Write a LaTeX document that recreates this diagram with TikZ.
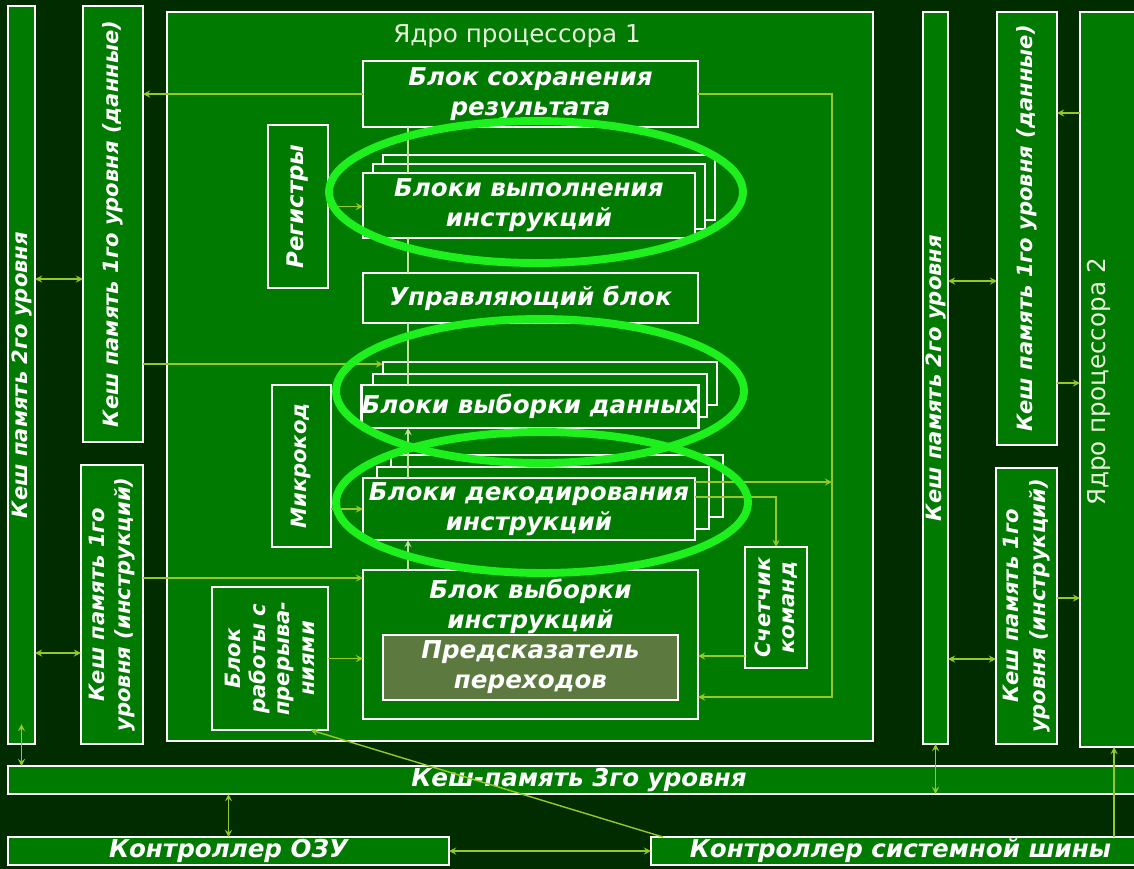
\documentclass[tikz,border=0pt]{standalone}
\usepackage{fontspec}
\setmainfont{DejaVu Sans}
\usetikzlibrary{calc}

\definecolor{bgdark}{RGB}{0,44,0}
\definecolor{boxgreen}{RGB}{0,122,0}
\definecolor{wirec}{RGB}{150,200,40}
\definecolor{spinec}{RGB}{190,225,160}
\definecolor{ringc}{RGB}{30,240,30}
\definecolor{predc}{RGB}{92,122,64}
\definecolor{titlec}{RGB}{232,244,220}

\begin{document}
\begin{tikzpicture}[x=0.02cm, y=-0.02cm, >=stealth,
  every node/.style={font=\bfseries\itshape\fontsize{14}{17}\selectfont, text=white, inner sep=0pt, outer sep=0pt},
  sz/.style 2 args={minimum width=#1*0.02cm, minimum height=#2*0.02cm},
  blk/.style={draw=white, line width=1.6pt, fill=boxgreen, align=center},
  vtxt/.style={rotate=90, align=center, font=\bfseries\itshape\fontsize{12}{14}\selectfont},
  title/.style={font=\fontsize{14}{17}\selectfont, text=titlec},
  wire/.style={draw=wirec, line width=0.8pt},
  spine/.style={draw=spinec, line width=0.8pt},
  ring/.style={draw=ringc, line width=4.5pt}]
\useasboundingbox (0,0) rectangle (1134,869);
\clip (0,0) rectangle (1134,869);
\fill[bgdark] (0,0) rectangle (1134,869);

\node[blk, sz={27}{738}] (L2L) at (21.5,375) {};
\node[vtxt] at (L2L) {Кеш память 2го уровня};
\node[blk, sz={60}{436}] (L1DL) at (113,224) {};
\node[vtxt] at (L1DL) {Кеш память 1го уровня (данные)};
\node[blk, sz={62}{279}] (L1IL) at (112,604.5) {};
\node[vtxt, font=\bfseries\itshape\fontsize{12}{15}\selectfont] at (L1IL) {Кеш память 1го\\уровня (инструкций)};

\node[blk, sz={706}{729}] (core1) at (520,376.5) {};
\node[title] (core1T) at (517,36) {Ядро процессора 1};

\node[blk, sz={25}{732}] (L2R) at (935.5,378) {};
\node[vtxt] at (L2R) {Кеш память 2го уровня};
\node[blk, sz={60}{433}] (L1DR) at (1027,228.5) {};
\node[vtxt] at (L1DR) {Кеш память 1го уровня (данные)};
\node[blk, sz={61}{276}] (L1IR) at (1026.5,606) {};
\node[vtxt, font=\bfseries\itshape\fontsize{12}{15}\selectfont] at (L1IR) {Кеш память 1го\\уровня (инструкций)};
\node[blk, sz={70}{735}] (core2) at (1115,379.5) {};
\node[title, rotate=90] (core2T) at (1099,382) {Ядро процессора 2};

\node[blk, sz={1142}{28}] (L3) at (579,780) {Кеш-память 3го уровня};
\node[blk, sz={441}{28}] (ram) at (228.5,851) {Контроллер ОЗУ};
\node[blk, sz={499}{28}] (bus) at (900.5,851) {Контроллер системной шины};

\node[blk, sz={335}{66}] (save) at (530.5,94) {Блок сохранения\\результата};
\node[blk, sz={332}{65}] (execB) at (549,187.5) {};
\node[blk, sz={332}{65}] (execM) at (539,196.5) {};
\node[blk, sz={332}{65}] (exec) at (529,205.5) {Блоки выполнения\\инструкций};
\node[blk, sz={335}{50}] (ctrl) at (530.5,298) {Управляющий блок};
\node[blk, sz={334}{43}] (datB) at (550,383.5) {};
\node[blk, sz={334}{43}] (datM) at (540,395.5) {};
\node[blk, sz={334}{43}] (dat) at (530,406.5) {Блоки выборки данных};
\node[blk, sz={332}{62}] (decB) at (557,486) {};
\node[blk, sz={332}{62}] (decM) at (543,498) {};
\node[blk, sz={332}{62}] (dec) at (529,509) {Блоки декодирования\\инструкций};
\node[blk, sz={335}{149}] (fetch) at (530.5,644.5) {};
\node[align=center] (fetchT) at (530.5,606) {Блок выборки\\инструкций};
\node[blk, fill=predc, sz={295}{65}] (pred) at (530.5,667.5) {Предсказатель\\переходов};

\node[blk, sz={60}{163}] (reg) at (298,206.5) {};
\node[vtxt, font=\bfseries\itshape\fontsize{13}{15}\selectfont] at (reg) {Регистры};
\node[blk, sz={59}{162}] (micro) at (301.5,466) {};
\node[vtxt] at (micro) {Микрокод};
\node[blk, sz={116}{143}] (intr) at (270,658.5) {};
\node[vtxt] at (intr) {Блок\\работы с\\прерыва-\\ниями};
\node[blk, sz={62}{121}] (pc) at (776,607.5) {};
\node[vtxt] at (pc) {Счетчик\\команд};

\coordinate (xRet) at (832,0);
\coordinate (xS) at (408,0);
\coordinate (xH) at (1114,0);
\coordinate (yRet) at (0,697);
\coordinate (yDec1) at (0,482);
\coordinate (yDec2) at (0,497);
\coordinate (yPc) at (0,656);
\coordinate (yDat) at (0,364);
\coordinate (yIi) at (0,578);
\coordinate (yA) at (0,279);
\coordinate (yB) at (0,653);
\coordinate (yC) at (0,281);
\coordinate (yD) at (0,659);
\coordinate (yE) at (0,113);
\coordinate (yF) at (0,383);
\coordinate (yG) at (0,598);

\draw[spine] (save.south -| xS) -- (exec.north -| xS);
\draw[spine] (exec.south -| xS) -- (ctrl.north -| xS);
\draw[spine] (ctrl.south -| xS) -- (dat.north -| xS);
\draw[spine,->] (dec.north -| xS) -- (dat.south -| xS);
\draw[spine,->] (fetch.north -| xS) -- (dec.south -| xS);

\draw[wire,->] (save.west) -- (save.west -| L1DL.east);
\draw[wire,->] (save.east) -- (save.east -| xRet) -- (xRet |- yRet) -- (fetch.east |- yRet);
\draw[wire,->] (dec.east |- yDec1) -- (xRet |- yDec1);
\draw[wire,->] (dec.east |- yDec2) -| (pc.north);
\draw[wire,->] (pc.west |- yPc) -- (fetch.east |- yPc);
\draw[wire,->] (reg.east) -- (reg.east -| exec.west);
\draw[wire,->] (micro.east |- dec.west) -- (dec.west);
\draw[wire,->] (intr.east) -- (intr.east -| fetch.west);
\draw[wire,->] (L1DL.east |- yDat) -- (datB.west |- yDat);
\draw[wire,->] (L1IL.east |- yIi) -- (fetch.west |- yIi);
\draw[wire,<->] (L2L.east |- yA) -- (L1DL.west |- yA);
\draw[wire,<->] (L2L.east |- yB) -- (L1IL.west |- yB);
\draw[wire,<->] ([yshift=0.4cm]L2L.south) -- (L3.north -| L2L.south);
\draw[wire,<->] (L3.south -| ram.north) -- (ram.north);
\draw[wire,<->] (ram.east) -- (bus.west);
\draw[wire,->] ([xshift=0.24cm]bus.north west) -- ($(intr.south)!0.7!(intr.south east)$);

\draw[wire,<->] (L2R.east |- yC) -- (L1DR.west |- yC);
\draw[wire,<->] (L2R.east |- yD) -- (L1IR.west |- yD);
\draw[wire,<->] (L2R.south) -- (L3.south -| L2R.south);
\draw[wire,->] (core2.west |- yE) -- (L1DR.east |- yE);
\draw[wire,->] (L1DR.east |- yF) -- (core2.west |- yF);
\draw[wire,->] (L1IR.east |- yG) -- (core2.west |- yG);
\draw[wire,->] (bus.north -| xH) -- (core2.south -| xH);

\draw[ring] (536,192) ellipse [x radius=4.14cm, y radius=1.42cm];
\draw[ring] (540,391) ellipse [x radius=4.08cm, y radius=1.44cm];
\draw[ring] (542,502.5) ellipse [x radius=4.12cm, y radius=1.41cm];
\end{tikzpicture}
\end{document}
